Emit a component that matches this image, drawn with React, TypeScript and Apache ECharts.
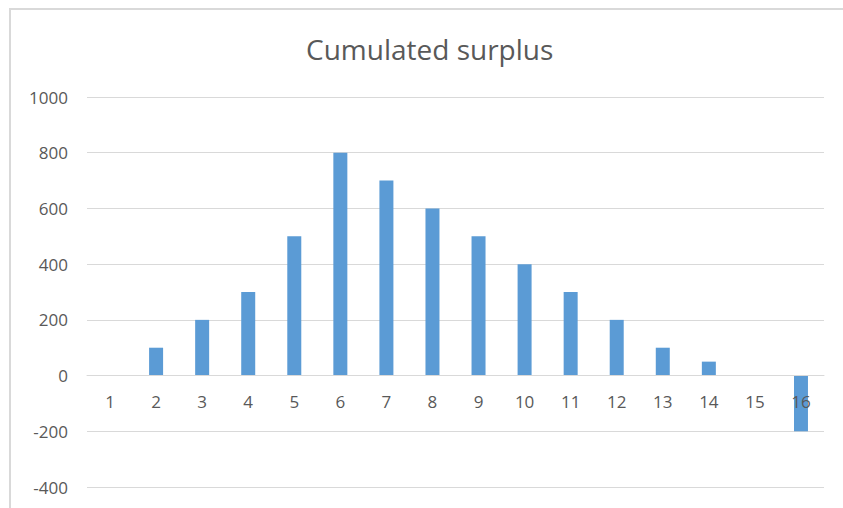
import React, { useEffect, useRef } from "react";
import * as echarts from "echarts";

const categories = ["1", "2", "3", "4", "5", "6", "7", "8", "9", "10", "11", "12", "13", "14", "15", "16"];
const surplus = [0, 100, 200, 300, 500, 800, 700, 600, 500, 400, 300, 200, 100, 50, 0, -200];
const titleText = "Cumulated surplus";
const yMin = -400;
const yMax = 1000;
const yStep = 200;

export default function App() {
  const ref = useRef<HTMLDivElement>(null);
  useEffect(() => {
    if (!ref.current) return;
    const chart = echarts.init(ref.current, undefined, { renderer: "svg" });
    const gridTop = 97;
    const gridBottom = 21;
    const plotH = 508 - gridTop - gridBottom;
    const zeroOffset = (plotH * (0 - yMin)) / (yMax - yMin);
    chart.setOption({
      animation: false,
      backgroundColor: "#ffffff",
      title: {
        text: titleText,
        left: 301,
        top: 30,
        textStyle: {
          fontFamily: "Open Sans",
          fontSize: 28,
          fontWeight: "normal",
          color: "#595959",
        },
      },
      graphic: [
        {
          type: "rect",
          shape: { x: 10, y: 9, width: 850, height: 520 },
          style: { fill: "none", stroke: "#d9d9d9", lineWidth: 2 },
          silent: true,
        },
      ],
      grid: {
        left: 87,
        right: 19,
        top: gridTop,
        bottom: gridBottom,
        containLabel: false,
        outerBoundsMode: "none",
      },
      xAxis: {
        type: "category",
        data: categories,
        offset: -zeroOffset,
        axisLine: { onZero: false, lineStyle: { color: "#d9d9d9", width: 1 } },
        axisTick: { show: false },
        axisLabel: {
          color: "#595959",
          fontFamily: "Open Sans",
          fontSize: 17,
          margin: 17,
        },
        z: 10,
      },
      yAxis: {
        type: "value",
        min: yMin,
        max: yMax,
        interval: yStep,
        axisLine: { show: false },
        axisTick: { show: false },
        splitLine: { lineStyle: { color: "#d9d9d9", width: 1 } },
        axisLabel: {
          color: "#595959",
          fontFamily: "Open Sans",
          fontSize: 17,
          margin: 19,
          formatter: (v: number) => String(v),
        },
      },
      series: [
        {
          type: "bar",
          data: surplus,
          barWidth: 14,
          itemStyle: { color: "#5b9bd5" },
          z: 2,
        },
      ],
    });
    return () => chart.dispose();
  }, []);
  return (
    <div
      ref={ref}
      style={{ position: "fixed", left: 0, top: 0, width: 843, height: 508 }}
    />
  );
}
